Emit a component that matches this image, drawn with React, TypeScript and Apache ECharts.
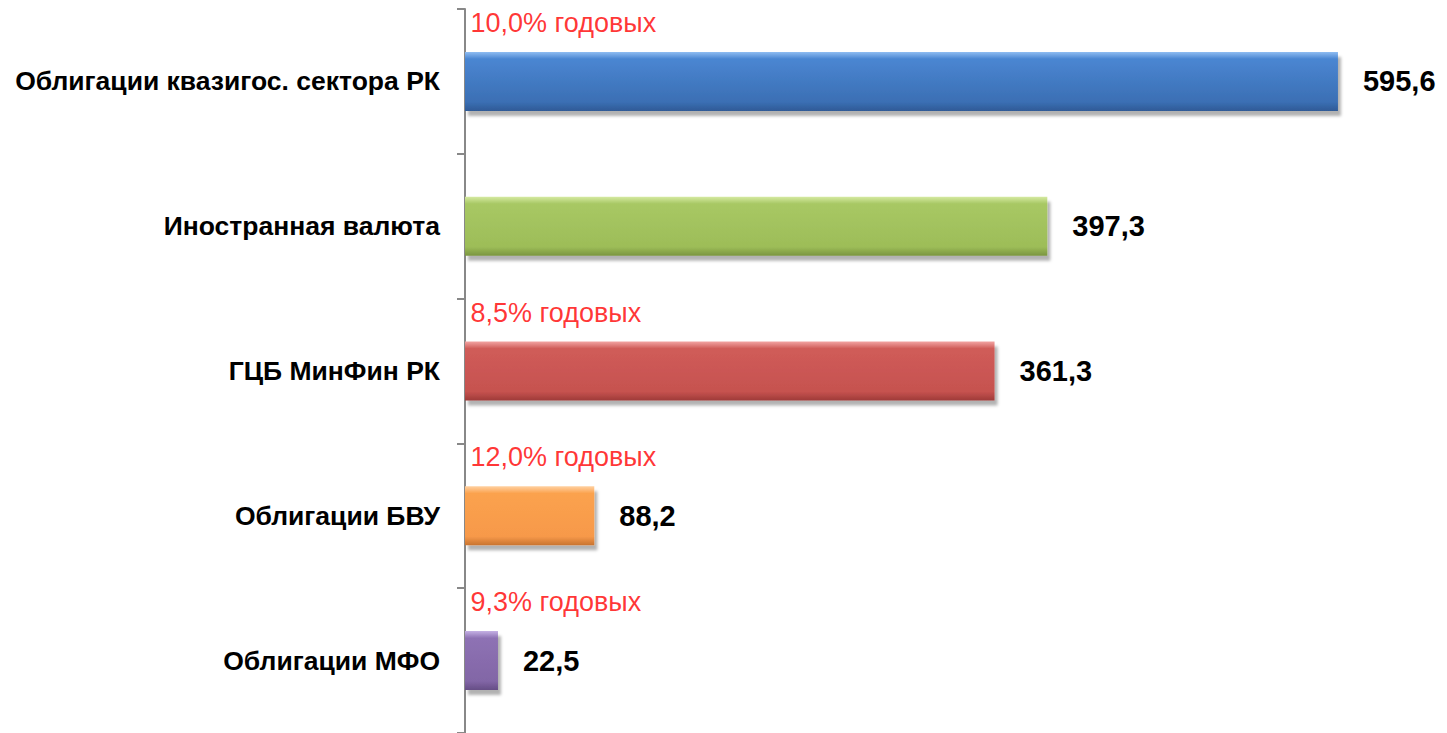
import React, { useEffect, useRef } from "react";
import * as echarts from "echarts";

const categories = [
  "Облигации квазигос. сектора РК",
  "Иностранная валюта",
  "ГЦБ МинФин РК",
  "Облигации БВУ",
  "Облигации МФО",
];
const values = [595.6, 397.3, 361.3, 88.2, 22.5];
const rates = ["10,0% годовых", "", "8,5% годовых", "12,0% годовых", "9,3% годовых"];
const palette = [
  ["#8fbdf2", "#4a86d2", "#3b6fb4", "#2f5a96"],
  ["#d6eaa2", "#a8c864", "#9dbd58", "#7a9540"],
  ["#f2a4a2", "#d05c59", "#c6524f", "#9e3b39"],
  ["#ffd0a0", "#fba24e", "#f7994a", "#c87330"],
  ["#c4b0e4", "#8e72b4", "#8266a6", "#654d85"],
];

const FONT = "'Liberation Sans', Arial, sans-serif";

export default function App() {
  const ref = useRef<HTMLDivElement>(null);
  useEffect(() => {
    document.body.style.margin = "0";
    const chart = echarts.init(ref.current!, null, { renderer: "svg" });
    const barData = values.map((v, i) => ({
      value: v,
      itemStyle: {
        color: new echarts.graphic.LinearGradient(0, 0, 0, 1, [
          { offset: 0, color: palette[i][0] },
          { offset: 0.12, color: palette[i][1] },
          { offset: 0.85, color: palette[i][2] },
          { offset: 1, color: palette[i][3] },
        ]),
      },
    }));
    const rateData = rates
      .map((r, i) => (r ? { value: [0, i], rate: r } : null))
      .filter(Boolean);
    chart.setOption({
      animation: false,
      grid: { left: 465, top: 9, width: 984, height: 728 },
      xAxis: { type: "value", min: 0, max: 670, show: false },
      yAxis: {
        type: "category",
        data: categories,
        inverse: true,
        axisLine: { show: true, lineStyle: { color: "#888888", width: 2 } },
        axisTick: { show: true, length: 8, lineStyle: { color: "#888888", width: 2 } },
        axisLabel: {
          margin: 25,
          color: "#000",
          fontWeight: "bold",
          fontSize: 26.5,
          fontFamily: FONT,
        },
        splitLine: { show: false },
      },
      series: [
        {
          type: "bar",
          data: barData,
          barWidth: 59,
          itemStyle: {
            shadowColor: "rgba(0,0,0,0.3)",
            shadowBlur: 3,
            shadowOffsetX: 3,
            shadowOffsetY: 5,
          },
          label: {
            show: true,
            position: "right",
            distance: 25,
            color: "#000",
            fontWeight: "bold",
            fontSize: 29,
            fontFamily: FONT,
            formatter: (p: any) => String(p.value.toFixed(1)).replace(".", ","),
          },
        },
        {
          type: "scatter",
          data: rateData,
          symbolSize: 1,
          itemStyle: { color: "rgba(0,0,0,0)" },
          label: {
            show: true,
            position: [6, -58],
            align: "left",
            verticalAlign: "middle",
            color: "#ff0000",
            fontSize: 27,
            fontFamily: FONT,
            formatter: (p: any) => p.data.rate,
          },
          z: 5,
        },
      ],
    });
    return () => chart.dispose();
  }, []);
  return <div ref={ref} style={{ width: 1447, height: 733 }} />;
}
